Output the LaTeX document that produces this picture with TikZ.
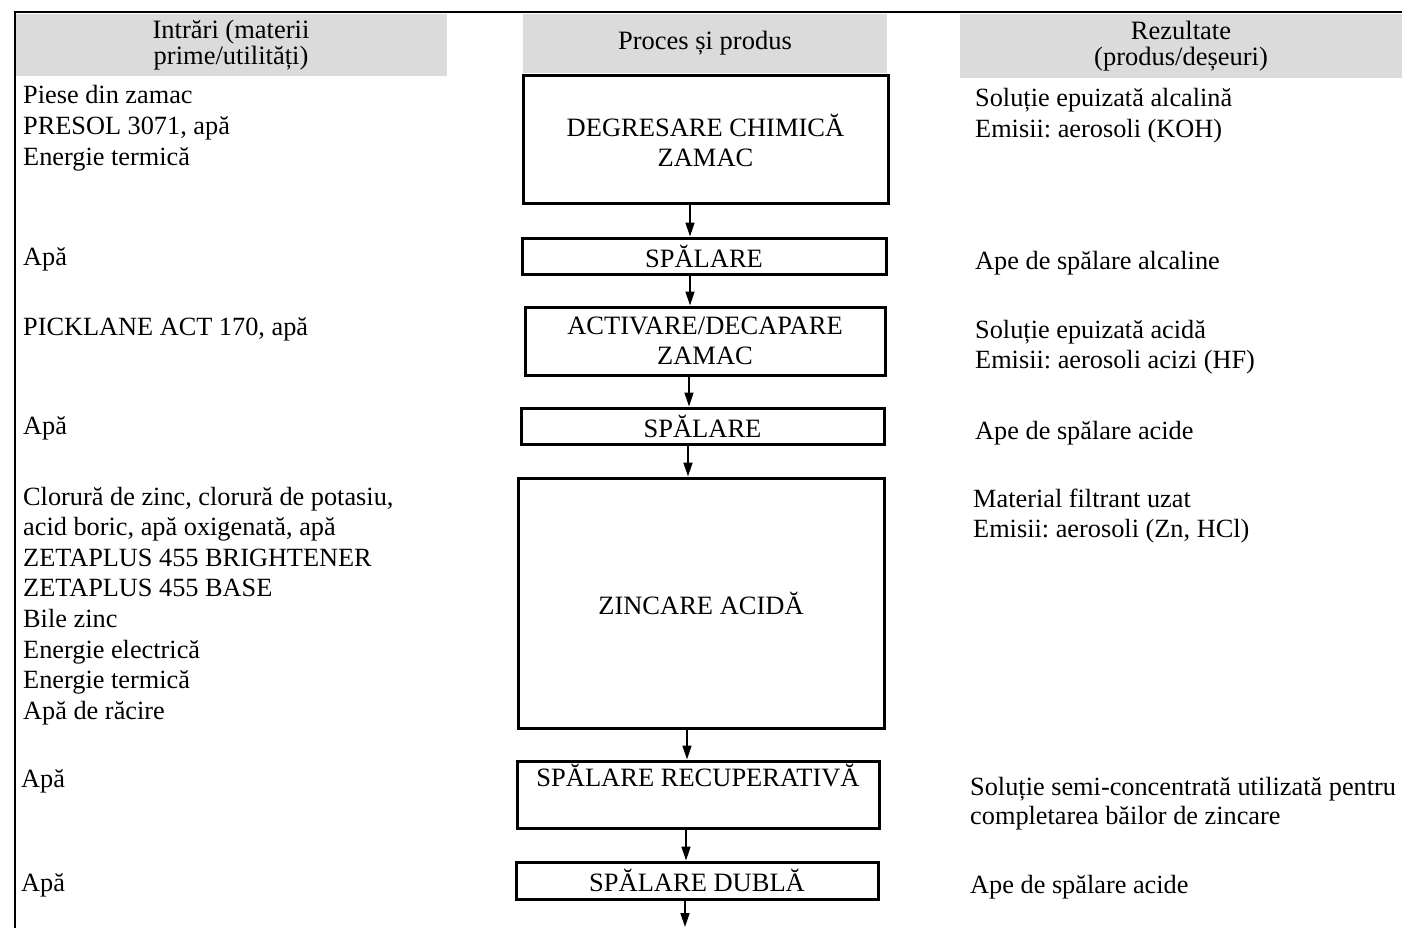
\documentclass[tikz,border=0pt]{standalone}
\usepackage{fontspec}
\setmainfont{Liberation Serif}
\usetikzlibrary{arrows.meta}
\frenchspacing
\tikzset{
  txt/.style={anchor=base west, inner sep=0pt, align=left, font=\fontsize{26.3}{30.6}\selectfont},
  hdr/.style={fill=gray!28, draw=none, inner sep=0pt, align=center, font=\fontsize{26.5}{26.5}\selectfont},
  procbox/.style={draw=black, line width=3pt, inner sep=0pt, align=center, font=\fontsize{26.5}{30}\selectfont},
  arr/.style={line width=1.5pt, -{Triangle[length=14pt,width=9pt]}},
  frame/.style={line width=2.5pt}
}
\begin{document}
\begin{tikzpicture}[x=1pt,y=-1pt]
\useasboundingbox (0,0) rectangle (1402,928);
% headers
\node[hdr, minimum width=432pt, minimum height=62pt] (h1) at (231,45) {Intrări (materii\\prime/utilități)};
\node[hdr, minimum width=364pt, minimum height=59pt] (h2) at (705,43.5) {Proces și produs};
\node[hdr, minimum width=442pt, minimum height=64pt] (h3) at (1181,46) {Rezultate\\(produs/deșeuri)};
% frame
\draw[frame] (15,928) -- (15,12) -- (1402,12);
% process boxes
\node[procbox, minimum width=365pt, minimum height=128pt] (b1) at (705.5,140) {DEGRESARE CHIMICĂ\\ZAMAC};
\node[procbox, minimum width=364pt, minimum height=36pt] (b2) at (704,256) {SPĂLARE};
\node[procbox, minimum width=360pt, minimum height=68pt] (b3) at (705,341) {ACTIVARE/DECAPARE\\ZAMAC};
\node[procbox, minimum width=363pt, minimum height=36pt] (b4) at (702.5,426) {SPĂLARE};
\node[procbox, minimum width=366pt, minimum height=250pt] (b5) at (701,603) {ZINCARE ACIDĂ};
\node[procbox, minimum width=362pt, minimum height=67pt] (b6) at (698,794.5) {SPĂLARE RECUPERATIVĂ\\\strut};
\node[procbox, minimum width=362pt, minimum height=37pt] (b7) at (697,880.5) {SPĂLARE DUBLĂ};
\coordinate (end) at (685,927);
% arrows
\draw[arr] (b1.south -| 690,0) -- (b2.north -| 690,0);
\draw[arr] (b2.south -| 690,0) -- (b3.north -| 690,0);
\draw[arr] (b3.south -| 689,0) -- (b4.north -| 689,0);
\draw[arr] (b4.south -| 688,0) -- (b5.north -| 688,0);
\draw[arr] (b5.south -| 687,0) -- (b6.north -| 687,0);
\draw[arr] (b6.south -| 686,0) -- (b7.north -| 686,0);
\draw[arr] (b7.south -| 685,0) -- (end);
% inputs (anchor = baseline of last line)
\node[txt] (i1) at (23,165.2) {Piese din zamac\\PRESOL 3071, apă\\Energie termică};
\node[txt] (i2) at (23,265) {Apă};
\node[txt] (i3) at (23,335) {PICKLANE ACT 170, apă};
\node[txt] (i4) at (23,434) {Apă};
\node[txt] (i5) at (23,719.2) {Clorură de zinc, clorură de potasiu,\\acid boric, apă oxigenată, apă\\ZETAPLUS 455 BRIGHTENER\\ZETAPLUS 455 BASE\\Bile zinc\\Energie electrică\\Energie termică\\Apă de răcire};
\node[txt] (i6) at (21,787) {Apă};
\node[txt] (i7) at (21,891) {Apă};
% outputs
\node[txt] (o1) at (975,137.6) {Soluție epuizată alcalină\\Emisii: aerosoli (KOH)};
\node[txt] (o2) at (975,269) {Ape de spălare alcaline};
\node[txt] (o3) at (975,368.6) {Soluție epuizată acidă\\Emisii: aerosoli acizi (HF)};
\node[txt] (o4) at (975,439) {Ape de spălare acide};
\node[txt] (o5) at (973,537.6) {Material filtrant uzat\\Emisii: aerosoli (Zn, HCl)};
\node[txt, font=\fontsize{26.3}{29}\selectfont] (o6) at (970,824) {Soluție semi-concentrată utilizată pentru\\completarea băilor de zincare};
\node[txt] (o7) at (970,893) {Ape de spălare acide};
\end{tikzpicture}
\end{document}
